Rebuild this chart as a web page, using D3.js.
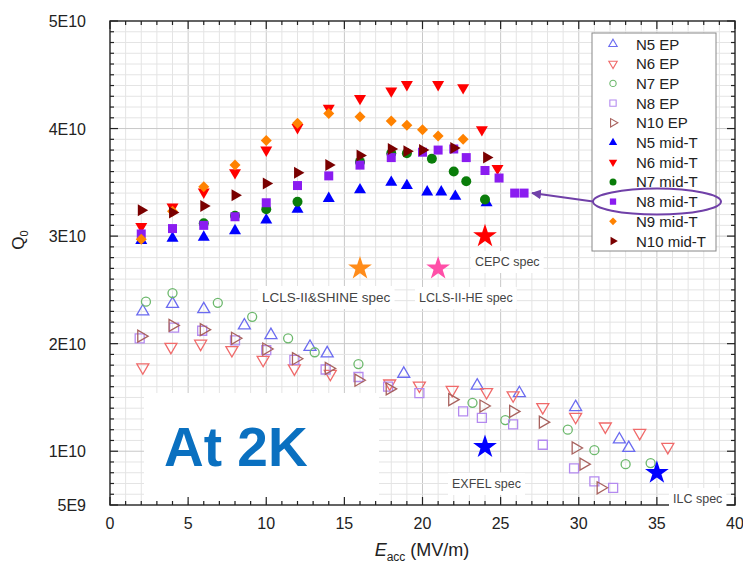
<!DOCTYPE html>
<html>
<head>
<meta charset="utf-8">
<script src="https://cdn.jsdelivr.net/npm/d3@7"></script>
<style>
  body { margin: 0; background: #fff; }
  svg { display: block; font-family: "Liberation Sans", Arial, sans-serif; }
</style>
</head>
<body>
<div id="chart"></div>
<script>
// values, Q0 in units of 1E10
const n5_ep = [[2.1,2.30],[4.0,2.37],[6.0,2.32],[8.6,2.17],[10.3,2.08],[12.8,1.97],[13.9,1.91],[18.8,1.72],[23.5,1.61],[26.2,1.54],[29.8,1.41],[32.6,1.11],[33.2,1.03]];
const n6_ep = [[2.1,1.78],[3.9,1.97],[5.8,2.00],[7.8,1.94],[9.8,1.85],[11.8,1.77],[14.1,1.72],[17.9,1.63],[19.8,1.61],[21.9,1.57],[24.1,1.55],[25.8,1.52],[27.7,1.41],[29.8,1.32],[31.7,1.23],[33.9,1.17],[35.7,1.04]];
const n7_ep = [[2.3,2.39],[4.0,2.47],[6.9,2.38],[9.1,2.25],[11.4,2.05],[13.1,1.92],[15.9,1.81],[23.2,1.45],[25.3,1.29],[29.3,1.20],[31.0,1.01],[33.0,0.88],[34.6,0.89]];
const n8_ep = [[1.9,2.05],[4.1,2.15],[5.9,2.12],[8.0,2.03],[10.0,1.94],[11.8,1.85],[13.8,1.76],[15.9,1.69],[17.8,1.60],[19.8,1.54],[22.6,1.37],[23.8,1.31],[25.8,1.25],[27.7,1.06],[29.7,0.84],[31.0,0.72],[32.2,0.66]];
const n10_ep = [[2.0,2.07],[4.0,2.17],[6.0,2.13],[8.0,2.05],[10.0,1.95],[11.9,1.86],[14.0,1.77],[15.9,1.66],[17.9,1.58],[21.9,1.48],[23.9,1.42],[25.8,1.37],[27.7,1.27],[29.8,1.03],[30.3,0.88],[31.4,0.66]];
const n5_mid = [[2,2.96],[4,2.98],[6,2.99],[8,3.05],[10,3.15],[12,3.25],[14,3.35],[16,3.43],[18,3.50],[19,3.47],[20.3,3.41],[21.2,3.41],[22.1,3.37],[24.1,3.31]];
const n6_mid = [[2,3.09],[4,3.27],[6,3.41],[8,3.59],[10,3.80],[12,4.01],[14,4.19],[16,4.28],[18,4.35],[19,4.41],[21,4.41],[22.6,4.38],[23.8,3.99],[24.8,3.63]];
const n7_mid = [[6,3.12],[8,3.19],[10,3.25],[12,3.32],[16,3.69],[18,3.77],[19,3.77],[20.6,3.72],[22,3.60],[22.8,3.51],[24,3.34]];
const n8_mid = [[2,3.02],[4,3.07],[6,3.10],[8,3.18],[10,3.31],[12,3.47],[14,3.56],[16,3.66],[18,3.73],[20,3.78],[21,3.80],[22,3.81],[22.8,3.73],[24,3.61],[24.9,3.54],[25.9,3.40],[26.5,3.40]];
const n9_mid = [[2,2.97],[4,3.23],[6,3.46],[8,3.66],[10,3.89],[12,4.05],[14,4.14],[16,4.11],[18,4.07],[19,4.03],[20,3.99],[21,3.93],[22.6,3.90]];
const n10_mid = [[2,3.24],[4,3.22],[6,3.28],[8,3.38],[10,3.49],[12,3.59],[14,3.66],[16,3.75],[18,3.81],[19,3.79],[20,3.80],[22,3.82],[24.1,3.73]];

const seriesNames = ["N5 EP","N6 EP","N7 EP","N8 EP","N10 EP","N5 mid-T","N6 mid-T","N7 mid-T","N8 mid-T","N9 mid-T","N10 mid-T"];
const seriesData = [n5_ep, n6_ep, n7_ep, n8_ep, n10_ep, n5_mid, n6_mid, n7_mid, n8_mid, n9_mid, n10_mid];

const specNames = ["LCLS-II&SHINE spec","LCLS-II-HE spec","CEPC spec","EXFEL spec","ILC spec"];
const specE = [16, 21, 24, 24, 35];
const specQ = [2.7, 2.7, 3.0, 1.04, 0.8];

const yTicks = [0.5, 1, 2, 3, 4, 5];
const yTickLabels = ["5E9","1E10","2E10","3E10","4E10","5E10"];
const xTicks = [0, 5, 10, 15, 20, 25, 30, 35, 40];

const width = 743, height = 574;
const pL = 110, pR = 735, pT = 21, pB = 505;

const x = d3.scaleLinear().domain([0, 40]).range([pL, pR]);
const y = d3.scaleLinear().domain([0.5, 5]).range([pB, pT]);

// marker styles per series
const styles = [
  {shape: "up",    fill: "none", stroke: "#6b6bf0"},
  {shape: "down",  fill: "none", stroke: "#f06a6a"},
  {shape: "circle",fill: "none", stroke: "#6cb86c"},
  {shape: "square",fill: "none", stroke: "#b48af0"},
  {shape: "right", fill: "none", stroke: "#a8625e"},
  {shape: "up",    fill: "#0000ff", stroke: "none"},
  {shape: "down",  fill: "#ff0000", stroke: "none"},
  {shape: "circle",fill: "#0a7d0a", stroke: "none"},
  {shape: "square",fill: "#8a1cf0", stroke: "none"},
  {shape: "diamond",fill: "#ff8200", stroke: "none"},
  {shape: "right", fill: "#7a0000", stroke: "none"}
];
const specColors = ["#ff8c1a", "#ff4fa8", "#ff0000", "#0000ff", "#0000ff"];

function markerPath(shape, s) {
  // s is a rough width in px
  if (shape === "circle") return d3.symbol(d3.symbolCircle, Math.PI * (s / 2) * (s / 2))();
  if (shape === "square") return d3.symbol(d3.symbolSquare, s * s)();
  if (shape === "diamond") return d3.symbol(d3.symbolSquare, s * s / 2)();
  return d3.symbol(d3.symbolTriangle, Math.sqrt(3) / 4 * s * s)();
}
function markerRot(shape) {
  if (shape === "down") return 180;
  if (shape === "right") return 90;
  if (shape === "diamond") return 45;
  return 0;
}
function markerSize(st) {
  if (st.fill === "none") return st.shape === "circle" ? 9 : st.shape === "square" ? 9 : 12;
  return st.shape === "circle" ? 10 : st.shape === "square" ? 9 : st.shape === "diamond" ? 11 : 12;
}

const svg = d3.select("#chart").append("svg")
  .attr("width", width).attr("height", height);

// grid
const grid = svg.append("g");
grid.selectAll("line.vx")
  .data(d3.range(1, 40))
  .join("line")
  .attr("x1", d => x(d)).attr("x2", d => x(d))
  .attr("y1", pT).attr("y2", pB)
  .attr("stroke", d => d % 5 === 0 ? "#c8c8c8" : "#e4e4e4")
  .attr("stroke-width", 1);
grid.selectAll("line.hy")
  .data(d3.range(6, 50).map(d => d / 10))
  .join("line")
  .attr("y1", d => y(d)).attr("y2", d => y(d))
  .attr("x1", pL).attr("x2", pR)
  .attr("stroke", d => Math.abs(d - Math.round(d)) < 1e-6 ? "#c8c8c8" : "#e4e4e4")
  .attr("stroke-width", 1);

// white box of the slide behind "At 2K"
svg.append("rect").attr("x", 144).attr("y", 393).attr("width", 235).attr("height", 108).attr("fill", "#fff");

// axes, ticks inward on all four sides
const axisG = svg.append("g").attr("stroke", "#222").attr("stroke-width", 1.2);
const xMinor = d3.range(0, 41);
const yMinor = d3.range(5, 51).map(d => d / 10);
axisG.append("g").selectAll("line").data(xMinor).join("line")
  .attr("x1", d => x(d)).attr("x2", d => x(d))
  .attr("y1", pB).attr("y2", d => pB - (d % 5 === 0 ? 8 : 4));
axisG.append("g").selectAll("line").data(xMinor).join("line")
  .attr("x1", d => x(d)).attr("x2", d => x(d))
  .attr("y1", pT).attr("y2", d => pT + (d % 5 === 0 ? 8 : 4));
axisG.append("g").selectAll("line").data(yMinor).join("line")
  .attr("y1", d => y(d)).attr("y2", d => y(d))
  .attr("x1", pL).attr("x2", d => pL + (yTicks.includes(d) ? 8 : 4));
axisG.append("g").selectAll("line").data(yMinor).join("line")
  .attr("y1", d => y(d)).attr("y2", d => y(d))
  .attr("x1", pR).attr("x2", d => pR - (yTicks.includes(d) ? 8 : 4));
svg.append("rect")
  .attr("x", pL).attr("y", pT).attr("width", pR - pL).attr("height", pB - pT)
  .attr("fill", "none").attr("stroke", "#222").attr("stroke-width", 1.4);

// tick labels
svg.append("g").selectAll("text").data(xTicks).join("text")
  .attr("x", d => x(d)).attr("y", 529)
  .attr("text-anchor", "middle").attr("font-size", 16).attr("fill", "#222")
  .text(d => d);
svg.append("g").selectAll("text").data(yTicks).join("text")
  .attr("x", 86).attr("y", d => y(d) + 6)
  .attr("text-anchor", "end").attr("font-size", 16).attr("fill", "#222")
  .text((d, i) => yTickLabels[i]);

// axis titles
const yt = svg.append("text")
  .attr("transform", "translate(24,240) rotate(-90)")
  .attr("text-anchor", "middle").attr("font-size", 17).attr("fill", "#222");
yt.append("tspan").text("Q");
yt.append("tspan").attr("font-size", 11).attr("dy", 4).text("0");

const xt = svg.append("text")
  .attr("x", 422).attr("y", 556)
  .attr("text-anchor", "middle").attr("font-size", 18).attr("fill", "#222");
xt.append("tspan").attr("font-style", "italic").text("E");
xt.append("tspan").attr("font-size", 12).attr("dy", 5).text("acc");
xt.append("tspan").attr("dy", -5).text(" (MV/m)");

// spec labels with white backing
const specLabelPos = [[262, 302], [419, 302], [475, 266], [452, 488], [673, 503]];
const labelG = svg.append("g");
specNames.forEach((name, i) => {
  const bg = labelG.append("rect").attr("fill", "#fff");
  const t = labelG.append("text")
    .attr("x", specLabelPos[i][0]).attr("y", specLabelPos[i][1])
    .attr("font-size", i === 0 ? 13.5 : 12.5).attr("fill", "#444")
    .text(name);
  const b = t.node().getBBox();
  bg.attr("x", b.x - 4).attr("y", b.y - 4).attr("width", b.width + 8).attr("height", b.height + 8);
});

// data points
const plot = svg.append("g");
seriesData.forEach((data, i) => {
  const st = styles[i];
  const s = markerSize(st);
  plot.append("g").selectAll("path").data(data).join("path")
    .attr("d", markerPath(st.shape, s))
    .attr("transform", d => `translate(${x(d[0])},${y(d[1])}) rotate(${markerRot(st.shape)})`)
    .attr("fill", st.fill)
    .attr("stroke", st.stroke)
    .attr("stroke-width", st.fill === "none" ? 1.3 : 0);
});

// spec stars
plot.append("g").selectAll("path").data(specE).join("path")
  .attr("d", d3.symbol(d3.symbolStar, 175)())
  .attr("transform", (d, i) => `translate(${x(d)},${y(specQ[i])})`)
  .attr("fill", (d, i) => specColors[i]);

// legend
const lg = svg.append("g").attr("transform", "translate(592,33)");
lg.append("rect").attr("width", 124).attr("height", 218)
  .attr("fill", "#fff").attr("stroke", "#888").attr("stroke-width", 1);
seriesNames.forEach((name, i) => {
  const st = styles[i];
  const yy = 11 + i * 19.7;
  lg.append("path")
    .attr("d", markerPath(st.shape, markerSize(st) * 0.7))
    .attr("transform", `translate(21,${yy}) rotate(${markerRot(st.shape)})`)
    .attr("fill", st.fill).attr("stroke", st.stroke)
    .attr("stroke-width", st.fill === "none" ? 1.1 : 0);
  lg.append("text").attr("x", 44).attr("y", yy + 5.5)
    .attr("font-size", 15).attr("fill", "#222").text(name);
});

// purple ellipse around "N8 mid-T" and arrow to the last N8 points
const ex = 657, ey = 33 + 11 + 8 * 19.7;
svg.append("ellipse").attr("cx", ex).attr("cy", ey).attr("rx", 64).attr("ry", 13)
  .attr("fill", "none").attr("stroke", "#7040a8").attr("stroke-width", 2);
svg.append("defs").append("marker")
  .attr("id", "ah").attr("viewBox", "0 0 10 10").attr("refX", 9).attr("refY", 5)
  .attr("markerWidth", 5).attr("markerHeight", 5).attr("orient", "auto")
  .append("path").attr("d", "M0,0L10,5L0,10z").attr("fill", "#7040a8");
const last = n8_mid[n8_mid.length - 1];
svg.append("line")
  .attr("x1", ex - 64).attr("y1", ey)
  .attr("x2", x(last[0]) + 8).attr("y2", y(last[1]))
  .attr("stroke", "#7040a8").attr("stroke-width", 2).attr("marker-end", "url(#ah)");

// "At 2K" text
svg.append("text").attr("x", 164).attr("y", 466)
  .attr("font-size", 55).attr("font-weight", "bold").attr("fill", "#0a70c0")
  .text("At 2K");
</script>
</body>
</html>
